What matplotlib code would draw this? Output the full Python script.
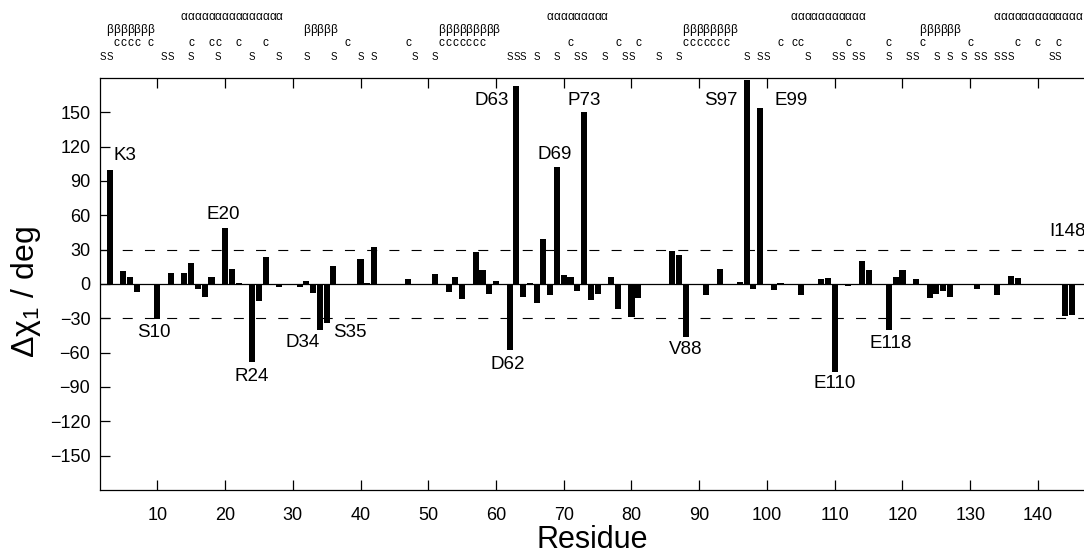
#!/usr/bin/env python3

import numpy as np
import matplotlib
matplotlib.use("Agg")
import matplotlib.pyplot as plt

plt.rcParams["font.family"] = ["Liberation Sans", "DejaVu Sans"]
plt.rcParams["mathtext.default"] = "regular"

# per-residue change of chi1 (deg)
residue = [3, 5, 6, 7, 10, 12, 14, 15, 16, 17, 18, 20, 21, 22, 24, 25, 26, 28,
           31, 32, 33, 34, 35, 36, 40, 41, 42, 46, 47, 50, 51, 53, 54, 55, 57,
           58, 59, 60, 62, 63, 64, 65, 66, 67, 68, 69, 70, 71, 72, 73, 74, 75,
           77, 78, 80, 81, 86, 87, 88, 91, 93, 96, 97, 98, 99, 101, 102, 105,
           108, 109, 110, 112, 114, 115, 118, 119, 120, 122, 124, 125, 126, 127,
           131, 134, 136, 137, 138, 143, 144, 145, 148]
dchi = [100, 11, 6, -7, -31, 10, 10, 18, -4, -11, 6, 49, 13, 1, -68, -15, 24, -3,
        -3, 3, -8, -40, -34, 16, 22, 1, 32, -1, 4, -1, 9, -7, 6, -13, 28,
        12, -9, 3, -58, 173, -11, 1, -17, 39, -10, 102, 8, 6, -6, 150, -14, -9,
        6, -22, -29, -12, 29, 25, -46, -10, 13, 2, 178, -4, 154, -5, 1, -10,
        4, 5, -77, -2, 20, 12, -40, 6, 12, 4, -12, -9, -6, -11,
        -4, -10, 7, 5, -1, -1, -28, -27, 35]

labels = ["K3", "S10", "E20", "R24", "D34", "S35", "D62", "D63", "D69", "P73",
          "V88", "S97", "E99", "E110", "E118", "I148"]

# secondary structure rows drawn above the plot
helix = list(range(14, 29)) + list(range(68, 77)) + list(range(104, 115)) + list(range(134, 147))
strand = list(range(3, 10)) + list(range(32, 37)) + list(range(52, 61)) + list(range(88, 96)) + list(range(123, 129))
coil = [4, 5, 6, 7, 9, 15, 18, 19, 22, 26, 38, 47] + list(range(52, 59)) + \
       [71, 78, 81] + list(range(88, 95)) + [102, 104, 105, 112, 118, 123, 130, 137, 140, 143]
bend = [2, 3, 11, 12, 15, 19, 24, 28, 32, 36, 40, 42, 48, 51, 62, 63, 64, 66, 69,
        72, 73, 76, 79, 80, 84, 87, 97, 99, 100, 106, 110, 111, 113, 114, 118,
        121, 122, 125, 127, 129, 131, 132, 134, 135, 136, 142, 143]

# label offsets from bar tip (residues, deg)
offs = {"K3": (2.2, 12), "S10": (-0.5, -11), "E20": (-0.3, 11.5), "R24": (0, -13),
        "D34": (-2.6, -10.7), "S35": (3.4, -8.8), "D62": (-0.2, -12),
        "D63": (-3.7, -13), "D69": (-0.3, 11), "P73": (0, 10), "V88": (0, -11.3),
        "S97": (-3.8, -18), "E99": (4.6, 6), "E110": (0, -10), "E118": (0.3, -11.6),
        "I148": (-3.6, 11)}

fig = plt.figure(figsize=(10.84, 5.59), dpi=100)
ax = fig.add_axes([100 / 1084, 1 - 490 / 559, 1 - 100 / 1084, 412 / 559])

ax.bar(residue, dchi, width=0.9, color="k", linewidth=0)
ax.axhline(0, color="k", lw=0.9)
for y in (30, -30):
    ax.axhline(y, color="k", lw=0.8, linestyle=(0, (9, 11)))

val = dict(zip(residue, dchi))
for lab in labels:
    r = int(lab[1:])
    dx, dy = offs[lab]
    ax.text(r + dx, val[r] + dy, lab, ha="center", va="center", fontsize=13.5)

ax.set_xlim(1.54, 146.8)
ax.set_ylim(-180, 180)
ax.set_xticks(np.arange(10, 141, 10))
ax.set_yticks(np.arange(-150, 151, 30))
ax.tick_params(direction="in", length=7, width=0.9, labelsize=13, top=True, pad=7)
ax.tick_params(axis="x", pad=12)
ax.spines["right"].set_visible(False)
for s in ("left", "bottom", "top"):
    ax.spines[s].set_linewidth(0.9)

ax.set_xlabel("Residue", fontsize=22, labelpad=1)
ax.set_ylabel("Δχ$_1$ / deg", fontsize=23)
ax.yaxis.set_label_coords(-0.058, 0.48)

tr = ax.get_xaxis_transform()
rows = [(helix, "α", 1.148, 8.5), (strand, "β", 1.1165, 8.5),
        (coil, "c", 1.085, 8.5), (bend, "S", 1.052, 7)]
for pos, ch, yy, fs in rows:
    for r in pos:
        ax.text(r, yy, ch, transform=tr, ha="center", va="center",
                fontsize=fs, clip_on=False)

fig.savefig("out.png", dpi=100)
